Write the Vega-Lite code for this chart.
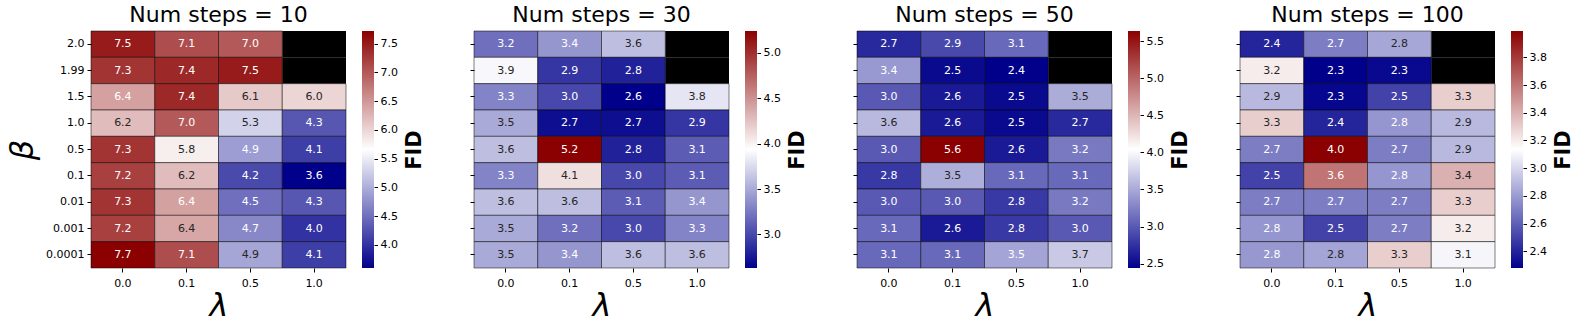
{
  "$schema": "https://vega.github.io/schema/vega-lite/v6.json",
  "background": "white",
  "padding": {"left": 6, "top": 3, "right": 5, "bottom": 5},
  "spacing": 44,
  "datasets": {
    "cbar": [
      {"steps": 10, "lo": 3.6, "hi": 7.72},
      {"steps": 30, "lo": 2.63, "hi": 5.24},
      {"steps": 50, "lo": 2.44, "hi": 5.64},
      {"steps": 100, "lo": 2.28, "hi": 3.99}
    ],
    "fid": [
      {"steps": 10, "beta": "2.0", "lam": "0.0", "v": 7.5},
      {"steps": 10, "beta": "2.0", "lam": "0.1", "v": 7.1},
      {"steps": 10, "beta": "2.0", "lam": "0.5", "v": 7.0},
      {"steps": 10, "beta": "2.0", "lam": "1.0", "v": null},
      {"steps": 10, "beta": "1.99", "lam": "0.0", "v": 7.3},
      {"steps": 10, "beta": "1.99", "lam": "0.1", "v": 7.4},
      {"steps": 10, "beta": "1.99", "lam": "0.5", "v": 7.5},
      {"steps": 10, "beta": "1.99", "lam": "1.0", "v": null},
      {"steps": 10, "beta": "1.5", "lam": "0.0", "v": 6.43},
      {"steps": 10, "beta": "1.5", "lam": "0.1", "v": 7.4},
      {"steps": 10, "beta": "1.5", "lam": "0.5", "v": 6.1},
      {"steps": 10, "beta": "1.5", "lam": "1.0", "v": 6.0},
      {"steps": 10, "beta": "1.0", "lam": "0.0", "v": 6.2},
      {"steps": 10, "beta": "1.0", "lam": "0.1", "v": 7.0},
      {"steps": 10, "beta": "1.0", "lam": "0.5", "v": 5.3},
      {"steps": 10, "beta": "1.0", "lam": "1.0", "v": 4.3},
      {"steps": 10, "beta": "0.5", "lam": "0.0", "v": 7.3},
      {"steps": 10, "beta": "0.5", "lam": "0.1", "v": 5.8},
      {"steps": 10, "beta": "0.5", "lam": "0.5", "v": 4.87},
      {"steps": 10, "beta": "0.5", "lam": "1.0", "v": 4.1},
      {"steps": 10, "beta": "0.1", "lam": "0.0", "v": 7.2},
      {"steps": 10, "beta": "0.1", "lam": "0.1", "v": 6.2},
      {"steps": 10, "beta": "0.1", "lam": "0.5", "v": 4.2},
      {"steps": 10, "beta": "0.1", "lam": "1.0", "v": 3.6},
      {"steps": 10, "beta": "0.01", "lam": "0.0", "v": 7.3},
      {"steps": 10, "beta": "0.01", "lam": "0.1", "v": 6.42},
      {"steps": 10, "beta": "0.01", "lam": "0.5", "v": 4.5},
      {"steps": 10, "beta": "0.01", "lam": "1.0", "v": 4.3},
      {"steps": 10, "beta": "0.001", "lam": "0.0", "v": 7.2},
      {"steps": 10, "beta": "0.001", "lam": "0.1", "v": 6.37},
      {"steps": 10, "beta": "0.001", "lam": "0.5", "v": 4.7},
      {"steps": 10, "beta": "0.001", "lam": "1.0", "v": 4.0},
      {"steps": 10, "beta": "0.0001", "lam": "0.0", "v": 7.72},
      {"steps": 10, "beta": "0.0001", "lam": "0.1", "v": 7.1},
      {"steps": 10, "beta": "0.0001", "lam": "0.5", "v": 4.93},
      {"steps": 10, "beta": "0.0001", "lam": "1.0", "v": 4.1},

      {"steps": 30, "beta": "2.0", "lam": "0.0", "v": 3.2},
      {"steps": 30, "beta": "2.0", "lam": "0.1", "v": 3.4},
      {"steps": 30, "beta": "2.0", "lam": "0.5", "v": 3.6},
      {"steps": 30, "beta": "2.0", "lam": "1.0", "v": null},
      {"steps": 30, "beta": "1.99", "lam": "0.0", "v": 3.9},
      {"steps": 30, "beta": "1.99", "lam": "0.1", "v": 2.9},
      {"steps": 30, "beta": "1.99", "lam": "0.5", "v": 2.8},
      {"steps": 30, "beta": "1.99", "lam": "1.0", "v": null},
      {"steps": 30, "beta": "1.5", "lam": "0.0", "v": 3.3},
      {"steps": 30, "beta": "1.5", "lam": "0.1", "v": 3.0},
      {"steps": 30, "beta": "1.5", "lam": "0.5", "v": 2.63},
      {"steps": 30, "beta": "1.5", "lam": "1.0", "v": 3.8},
      {"steps": 30, "beta": "1.0", "lam": "0.0", "v": 3.5},
      {"steps": 30, "beta": "1.0", "lam": "0.1", "v": 2.7},
      {"steps": 30, "beta": "1.0", "lam": "0.5", "v": 2.7},
      {"steps": 30, "beta": "1.0", "lam": "1.0", "v": 2.9},
      {"steps": 30, "beta": "0.5", "lam": "0.0", "v": 3.6},
      {"steps": 30, "beta": "0.5", "lam": "0.1", "v": 5.24},
      {"steps": 30, "beta": "0.5", "lam": "0.5", "v": 2.8},
      {"steps": 30, "beta": "0.5", "lam": "1.0", "v": 3.1},
      {"steps": 30, "beta": "0.1", "lam": "0.0", "v": 3.3},
      {"steps": 30, "beta": "0.1", "lam": "0.1", "v": 4.1},
      {"steps": 30, "beta": "0.1", "lam": "0.5", "v": 3.0},
      {"steps": 30, "beta": "0.1", "lam": "1.0", "v": 3.1},
      {"steps": 30, "beta": "0.01", "lam": "0.0", "v": 3.6},
      {"steps": 30, "beta": "0.01", "lam": "0.1", "v": 3.6},
      {"steps": 30, "beta": "0.01", "lam": "0.5", "v": 3.1},
      {"steps": 30, "beta": "0.01", "lam": "1.0", "v": 3.4},
      {"steps": 30, "beta": "0.001", "lam": "0.0", "v": 3.5},
      {"steps": 30, "beta": "0.001", "lam": "0.1", "v": 3.2},
      {"steps": 30, "beta": "0.001", "lam": "0.5", "v": 3.0},
      {"steps": 30, "beta": "0.001", "lam": "1.0", "v": 3.3},
      {"steps": 30, "beta": "0.0001", "lam": "0.0", "v": 3.5},
      {"steps": 30, "beta": "0.0001", "lam": "0.1", "v": 3.4},
      {"steps": 30, "beta": "0.0001", "lam": "0.5", "v": 3.6},
      {"steps": 30, "beta": "0.0001", "lam": "1.0", "v": 3.6},

      {"steps": 50, "beta": "2.0", "lam": "0.0", "v": 2.7},
      {"steps": 50, "beta": "2.0", "lam": "0.1", "v": 2.9},
      {"steps": 50, "beta": "2.0", "lam": "0.5", "v": 3.1},
      {"steps": 50, "beta": "2.0", "lam": "1.0", "v": null},
      {"steps": 50, "beta": "1.99", "lam": "0.0", "v": 3.4},
      {"steps": 50, "beta": "1.99", "lam": "0.1", "v": 2.5},
      {"steps": 50, "beta": "1.99", "lam": "0.5", "v": 2.44},
      {"steps": 50, "beta": "1.99", "lam": "1.0", "v": null},
      {"steps": 50, "beta": "1.5", "lam": "0.0", "v": 3.0},
      {"steps": 50, "beta": "1.5", "lam": "0.1", "v": 2.6},
      {"steps": 50, "beta": "1.5", "lam": "0.5", "v": 2.5},
      {"steps": 50, "beta": "1.5", "lam": "1.0", "v": 3.52},
      {"steps": 50, "beta": "1.0", "lam": "0.0", "v": 3.6},
      {"steps": 50, "beta": "1.0", "lam": "0.1", "v": 2.6},
      {"steps": 50, "beta": "1.0", "lam": "0.5", "v": 2.5},
      {"steps": 50, "beta": "1.0", "lam": "1.0", "v": 2.7},
      {"steps": 50, "beta": "0.5", "lam": "0.0", "v": 3.0},
      {"steps": 50, "beta": "0.5", "lam": "0.1", "v": 5.64},
      {"steps": 50, "beta": "0.5", "lam": "0.5", "v": 2.6},
      {"steps": 50, "beta": "0.5", "lam": "1.0", "v": 3.2},
      {"steps": 50, "beta": "0.1", "lam": "0.0", "v": 2.8},
      {"steps": 50, "beta": "0.1", "lam": "0.1", "v": 3.53},
      {"steps": 50, "beta": "0.1", "lam": "0.5", "v": 3.1},
      {"steps": 50, "beta": "0.1", "lam": "1.0", "v": 3.1},
      {"steps": 50, "beta": "0.01", "lam": "0.0", "v": 3.0},
      {"steps": 50, "beta": "0.01", "lam": "0.1", "v": 3.0},
      {"steps": 50, "beta": "0.01", "lam": "0.5", "v": 2.8},
      {"steps": 50, "beta": "0.01", "lam": "1.0", "v": 3.2},
      {"steps": 50, "beta": "0.001", "lam": "0.0", "v": 3.1},
      {"steps": 50, "beta": "0.001", "lam": "0.1", "v": 2.6},
      {"steps": 50, "beta": "0.001", "lam": "0.5", "v": 2.8},
      {"steps": 50, "beta": "0.001", "lam": "1.0", "v": 3.0},
      {"steps": 50, "beta": "0.0001", "lam": "0.0", "v": 3.1},
      {"steps": 50, "beta": "0.0001", "lam": "0.1", "v": 3.1},
      {"steps": 50, "beta": "0.0001", "lam": "0.5", "v": 3.47},
      {"steps": 50, "beta": "0.0001", "lam": "1.0", "v": 3.7},

      {"steps": 100, "beta": "2.0", "lam": "0.0", "v": 2.4},
      {"steps": 100, "beta": "2.0", "lam": "0.1", "v": 2.7},
      {"steps": 100, "beta": "2.0", "lam": "0.5", "v": 2.84},
      {"steps": 100, "beta": "2.0", "lam": "1.0", "v": null},
      {"steps": 100, "beta": "1.99", "lam": "0.0", "v": 3.2},
      {"steps": 100, "beta": "1.99", "lam": "0.1", "v": 2.28},
      {"steps": 100, "beta": "1.99", "lam": "0.5", "v": 2.31},
      {"steps": 100, "beta": "1.99", "lam": "1.0", "v": null},
      {"steps": 100, "beta": "1.5", "lam": "0.0", "v": 2.9},
      {"steps": 100, "beta": "1.5", "lam": "0.1", "v": 2.3},
      {"steps": 100, "beta": "1.5", "lam": "0.5", "v": 2.5},
      {"steps": 100, "beta": "1.5", "lam": "1.0", "v": 3.3},
      {"steps": 100, "beta": "1.0", "lam": "0.0", "v": 3.3},
      {"steps": 100, "beta": "1.0", "lam": "0.1", "v": 2.4},
      {"steps": 100, "beta": "1.0", "lam": "0.5", "v": 2.78},
      {"steps": 100, "beta": "1.0", "lam": "1.0", "v": 2.9},
      {"steps": 100, "beta": "0.5", "lam": "0.0", "v": 2.7},
      {"steps": 100, "beta": "0.5", "lam": "0.1", "v": 3.99},
      {"steps": 100, "beta": "0.5", "lam": "0.5", "v": 2.7},
      {"steps": 100, "beta": "0.5", "lam": "1.0", "v": 2.9},
      {"steps": 100, "beta": "0.1", "lam": "0.0", "v": 2.5},
      {"steps": 100, "beta": "0.1", "lam": "0.1", "v": 3.6},
      {"steps": 100, "beta": "0.1", "lam": "0.5", "v": 2.78},
      {"steps": 100, "beta": "0.1", "lam": "1.0", "v": 3.4},
      {"steps": 100, "beta": "0.01", "lam": "0.0", "v": 2.7},
      {"steps": 100, "beta": "0.01", "lam": "0.1", "v": 2.7},
      {"steps": 100, "beta": "0.01", "lam": "0.5", "v": 2.7},
      {"steps": 100, "beta": "0.01", "lam": "1.0", "v": 3.3},
      {"steps": 100, "beta": "0.001", "lam": "0.0", "v": 2.78},
      {"steps": 100, "beta": "0.001", "lam": "0.1", "v": 2.5},
      {"steps": 100, "beta": "0.001", "lam": "0.5", "v": 2.7},
      {"steps": 100, "beta": "0.001", "lam": "1.0", "v": 3.2},
      {"steps": 100, "beta": "0.0001", "lam": "0.0", "v": 2.79},
      {"steps": 100, "beta": "0.0001", "lam": "0.1", "v": 2.83},
      {"steps": 100, "beta": "0.0001", "lam": "0.5", "v": 3.3},
      {"steps": 100, "beta": "0.0001", "lam": "1.0", "v": 3.1}
    ]
  },
  "hconcat": [
    {
      "spacing": 16, "bounds": "flush",
      "resolve": {"scale": {"y": "independent", "x": "independent", "color": "independent"}},
      "hconcat": [
        {
          "width": 255, "height": 237,
          "data": {"name": "fid"},
          "title": {"text": "Num steps = 10"},
          "transform": [{"filter": "datum.steps == 10"}],
          "encoding": {
            "x": {"field": "lam", "type": "ordinal", "sort": ["0.0", "0.1", "0.5", "1.0"], "scale": {"paddingInner": 0, "paddingOuter": 0}, "axis": {"title": "λ", "labelAngle": 0}},
            "y": {"field": "beta", "type": "ordinal", "sort": ["2.0", "1.99", "1.5", "1.0", "0.5", "0.1", "0.01", "0.001", "0.0001"], "scale": {"paddingInner": 0, "paddingOuter": 0}, "axis": {"title": "β"}}
          },
          "layer": [
            {"transform": [{"filter": "datum.v == null"}], "mark": {"type": "rect", "fill": "black"}},
            {"transform": [{"filter": "datum.v != null"}], "mark": {"type": "rect", "stroke": "black", "strokeWidth": 0.5},
             "encoding": {"color": {"field": "v", "type": "quantitative", "scale": {"domain": [3.6, 5.66, 7.72], "range": ["#00008b", "#ffffff", "#8b0000"], "interpolate": "rgb"}, "legend": null}}},
            {"transform": [{"filter": "datum.v != null"}], "mark": {"type": "text", "fontSize": 11},
             "encoding": {"text": {"field": "v", "type": "quantitative", "format": ".1f"},
               "color": {"condition": {"test": "datum.v > 4.9 && datum.v < 6.4", "value": "#262626"}, "value": "#ffffff"}}}
          ]
        },
        {
          "width": 12, "height": 237,
          "data": {"name": "cbar"},
          "transform": [{"filter": "datum.steps == 10"}],
          "mark": {"type": "rect", "color": {"gradient": "linear", "x1": 0, "y1": 1, "x2": 0, "y2": 0, "stops": [{"offset": 0, "color": "#00008b"}, {"offset": 0.5, "color": "#ffffff"}, {"offset": 1, "color": "#8b0000"}]}},
          "encoding": {
            "y": {"field": "lo", "type": "quantitative", "scale": {"domain": [3.6, 7.72], "nice": false, "zero": false},
              "axis": {"orient": "right", "values": [4.0, 4.5, 5.0, 5.5, 6.0, 6.5, 7.0, 7.5], "format": ".1f", "title": "FID"}},
            "y2": {"field": "hi"}
          }
        }
      ]
    },
    {
      "spacing": 16, "bounds": "flush",
      "resolve": {"scale": {"y": "independent", "x": "independent", "color": "independent"}},
      "hconcat": [
        {
          "width": 255, "height": 237,
          "data": {"name": "fid"},
          "title": {"text": "Num steps = 30"},
          "transform": [{"filter": "datum.steps == 30"}],
          "encoding": {
            "x": {"field": "lam", "type": "ordinal", "sort": ["0.0", "0.1", "0.5", "1.0"], "scale": {"paddingInner": 0, "paddingOuter": 0}, "axis": {"title": "λ", "labelAngle": 0}},
            "y": {"field": "beta", "type": "ordinal", "sort": ["2.0", "1.99", "1.5", "1.0", "0.5", "0.1", "0.01", "0.001", "0.0001"], "scale": {"paddingInner": 0, "paddingOuter": 0}, "axis": {"title": null, "labels": false}}
          },
          "layer": [
            {"transform": [{"filter": "datum.v == null"}], "mark": {"type": "rect", "fill": "black"}},
            {"transform": [{"filter": "datum.v != null"}], "mark": {"type": "rect", "stroke": "black", "strokeWidth": 0.5},
             "encoding": {"color": {"field": "v", "type": "quantitative", "scale": {"domain": [2.63, 3.935, 5.24], "range": ["#00008b", "#ffffff", "#8b0000"], "interpolate": "rgb"}, "legend": null}}},
            {"transform": [{"filter": "datum.v != null"}], "mark": {"type": "text", "fontSize": 11},
             "encoding": {"text": {"field": "v", "type": "quantitative", "format": ".1f"},
               "color": {"condition": {"test": "datum.v > 3.45 && datum.v < 4.5", "value": "#262626"}, "value": "#ffffff"}}}
          ]
        },
        {
          "width": 12, "height": 237,
          "data": {"name": "cbar"},
          "transform": [{"filter": "datum.steps == 30"}],
          "mark": {"type": "rect", "color": {"gradient": "linear", "x1": 0, "y1": 1, "x2": 0, "y2": 0, "stops": [{"offset": 0, "color": "#00008b"}, {"offset": 0.5, "color": "#ffffff"}, {"offset": 1, "color": "#8b0000"}]}},
          "encoding": {
            "y": {"field": "lo", "type": "quantitative", "scale": {"domain": [2.63, 5.24], "nice": false, "zero": false},
              "axis": {"orient": "right", "values": [3.0, 3.5, 4.0, 4.5, 5.0], "format": ".1f", "title": "FID"}},
            "y2": {"field": "hi"}
          }
        }
      ]
    },
    {
      "spacing": 16, "bounds": "flush",
      "resolve": {"scale": {"y": "independent", "x": "independent", "color": "independent"}},
      "hconcat": [
        {
          "width": 255, "height": 237,
          "data": {"name": "fid"},
          "title": {"text": "Num steps = 50"},
          "transform": [{"filter": "datum.steps == 50"}],
          "encoding": {
            "x": {"field": "lam", "type": "ordinal", "sort": ["0.0", "0.1", "0.5", "1.0"], "scale": {"paddingInner": 0, "paddingOuter": 0}, "axis": {"title": "λ", "labelAngle": 0}},
            "y": {"field": "beta", "type": "ordinal", "sort": ["2.0", "1.99", "1.5", "1.0", "0.5", "0.1", "0.01", "0.001", "0.0001"], "scale": {"paddingInner": 0, "paddingOuter": 0}, "axis": {"title": null, "labels": false}}
          },
          "layer": [
            {"transform": [{"filter": "datum.v == null"}], "mark": {"type": "rect", "fill": "black"}},
            {"transform": [{"filter": "datum.v != null"}], "mark": {"type": "rect", "stroke": "black", "strokeWidth": 0.5},
             "encoding": {"color": {"field": "v", "type": "quantitative", "scale": {"domain": [2.44, 4.04, 5.64], "range": ["#00008b", "#ffffff", "#8b0000"], "interpolate": "rgb"}, "legend": null}}},
            {"transform": [{"filter": "datum.v != null"}], "mark": {"type": "text", "fontSize": 11},
             "encoding": {"text": {"field": "v", "type": "quantitative", "format": ".1f"},
               "color": {"condition": {"test": "datum.v > 3.5 && datum.v < 4.6", "value": "#262626"}, "value": "#ffffff"}}}
          ]
        },
        {
          "width": 12, "height": 237,
          "data": {"name": "cbar"},
          "transform": [{"filter": "datum.steps == 50"}],
          "mark": {"type": "rect", "color": {"gradient": "linear", "x1": 0, "y1": 1, "x2": 0, "y2": 0, "stops": [{"offset": 0, "color": "#00008b"}, {"offset": 0.5, "color": "#ffffff"}, {"offset": 1, "color": "#8b0000"}]}},
          "encoding": {
            "y": {"field": "lo", "type": "quantitative", "scale": {"domain": [2.44, 5.64], "nice": false, "zero": false},
              "axis": {"orient": "right", "values": [2.5, 3.0, 3.5, 4.0, 4.5, 5.0, 5.5], "format": ".1f", "title": "FID"}},
            "y2": {"field": "hi"}
          }
        }
      ]
    },
    {
      "spacing": 16, "bounds": "flush",
      "resolve": {"scale": {"y": "independent", "x": "independent", "color": "independent"}},
      "hconcat": [
        {
          "width": 255, "height": 237,
          "data": {"name": "fid"},
          "title": {"text": "Num steps = 100"},
          "transform": [{"filter": "datum.steps == 100"}],
          "encoding": {
            "x": {"field": "lam", "type": "ordinal", "sort": ["0.0", "0.1", "0.5", "1.0"], "scale": {"paddingInner": 0, "paddingOuter": 0}, "axis": {"title": "λ", "labelAngle": 0}},
            "y": {"field": "beta", "type": "ordinal", "sort": ["2.0", "1.99", "1.5", "1.0", "0.5", "0.1", "0.01", "0.001", "0.0001"], "scale": {"paddingInner": 0, "paddingOuter": 0}, "axis": {"title": null, "labels": false}}
          },
          "layer": [
            {"transform": [{"filter": "datum.v == null"}], "mark": {"type": "rect", "fill": "black"}},
            {"transform": [{"filter": "datum.v != null"}], "mark": {"type": "rect", "stroke": "black", "strokeWidth": 0.5},
             "encoding": {"color": {"field": "v", "type": "quantitative", "scale": {"domain": [2.28, 3.135, 3.99], "range": ["#00008b", "#ffffff", "#8b0000"], "interpolate": "rgb"}, "legend": null}}},
            {"transform": [{"filter": "datum.v != null"}], "mark": {"type": "text", "fontSize": 11},
             "encoding": {"text": {"field": "v", "type": "quantitative", "format": ".1f"},
               "color": {"condition": {"test": "datum.v > 2.81 && datum.v < 3.5", "value": "#262626"}, "value": "#ffffff"}}}
          ]
        },
        {
          "width": 12, "height": 237,
          "data": {"name": "cbar"},
          "transform": [{"filter": "datum.steps == 100"}],
          "mark": {"type": "rect", "color": {"gradient": "linear", "x1": 0, "y1": 1, "x2": 0, "y2": 0, "stops": [{"offset": 0, "color": "#00008b"}, {"offset": 0.5, "color": "#ffffff"}, {"offset": 1, "color": "#8b0000"}]}},
          "encoding": {
            "y": {"field": "lo", "type": "quantitative", "scale": {"domain": [2.28, 3.99], "nice": false, "zero": false},
              "axis": {"orient": "right", "values": [2.4, 2.6, 2.8, 3.0, 3.2, 3.4, 3.6, 3.8], "format": ".1f", "title": "FID"}},
            "y2": {"field": "hi"}
          }
        }
      ]
    }
  ],
  "resolve": {"scale": {"color": "independent", "y": "independent", "x": "independent"}},
  "config": {
    "font": "DejaVu Sans",
    "view": {"stroke": null},
    "title": {"font": "DejaVu Sans", "fontSize": 22, "fontWeight": "normal", "color": "black", "offset": 4, "frame": "group", "anchor": "middle"},
    "axis": {
      "domain": false, "grid": false,
      "tickColor": "black", "tickSize": 4, "tickWidth": 1,
      "labelFont": "DejaVu Sans", "labelFontSize": 11, "labelColor": "black", "labelPadding": 3,
      "titleFont": "DejaVu Sans", "titleFontSize": 32, "titleFontStyle": "italic", "titleFontWeight": "normal", "titleColor": "black"
    },
    "axisX": {"titlePadding": 2, "labelPadding": 5},
    "axisY": {"titlePadding": 6},
    "axisRight": {
      "tickSize": 3.5, "labelPadding": 2.5, "labelFontSize": 11,
      "titleFontSize": 21, "titleFontStyle": "normal", "titleFontWeight": "bold",
      "titleAngle": 270, "titleBaseline": "top", "titlePadding": 6
    }
  }
}
